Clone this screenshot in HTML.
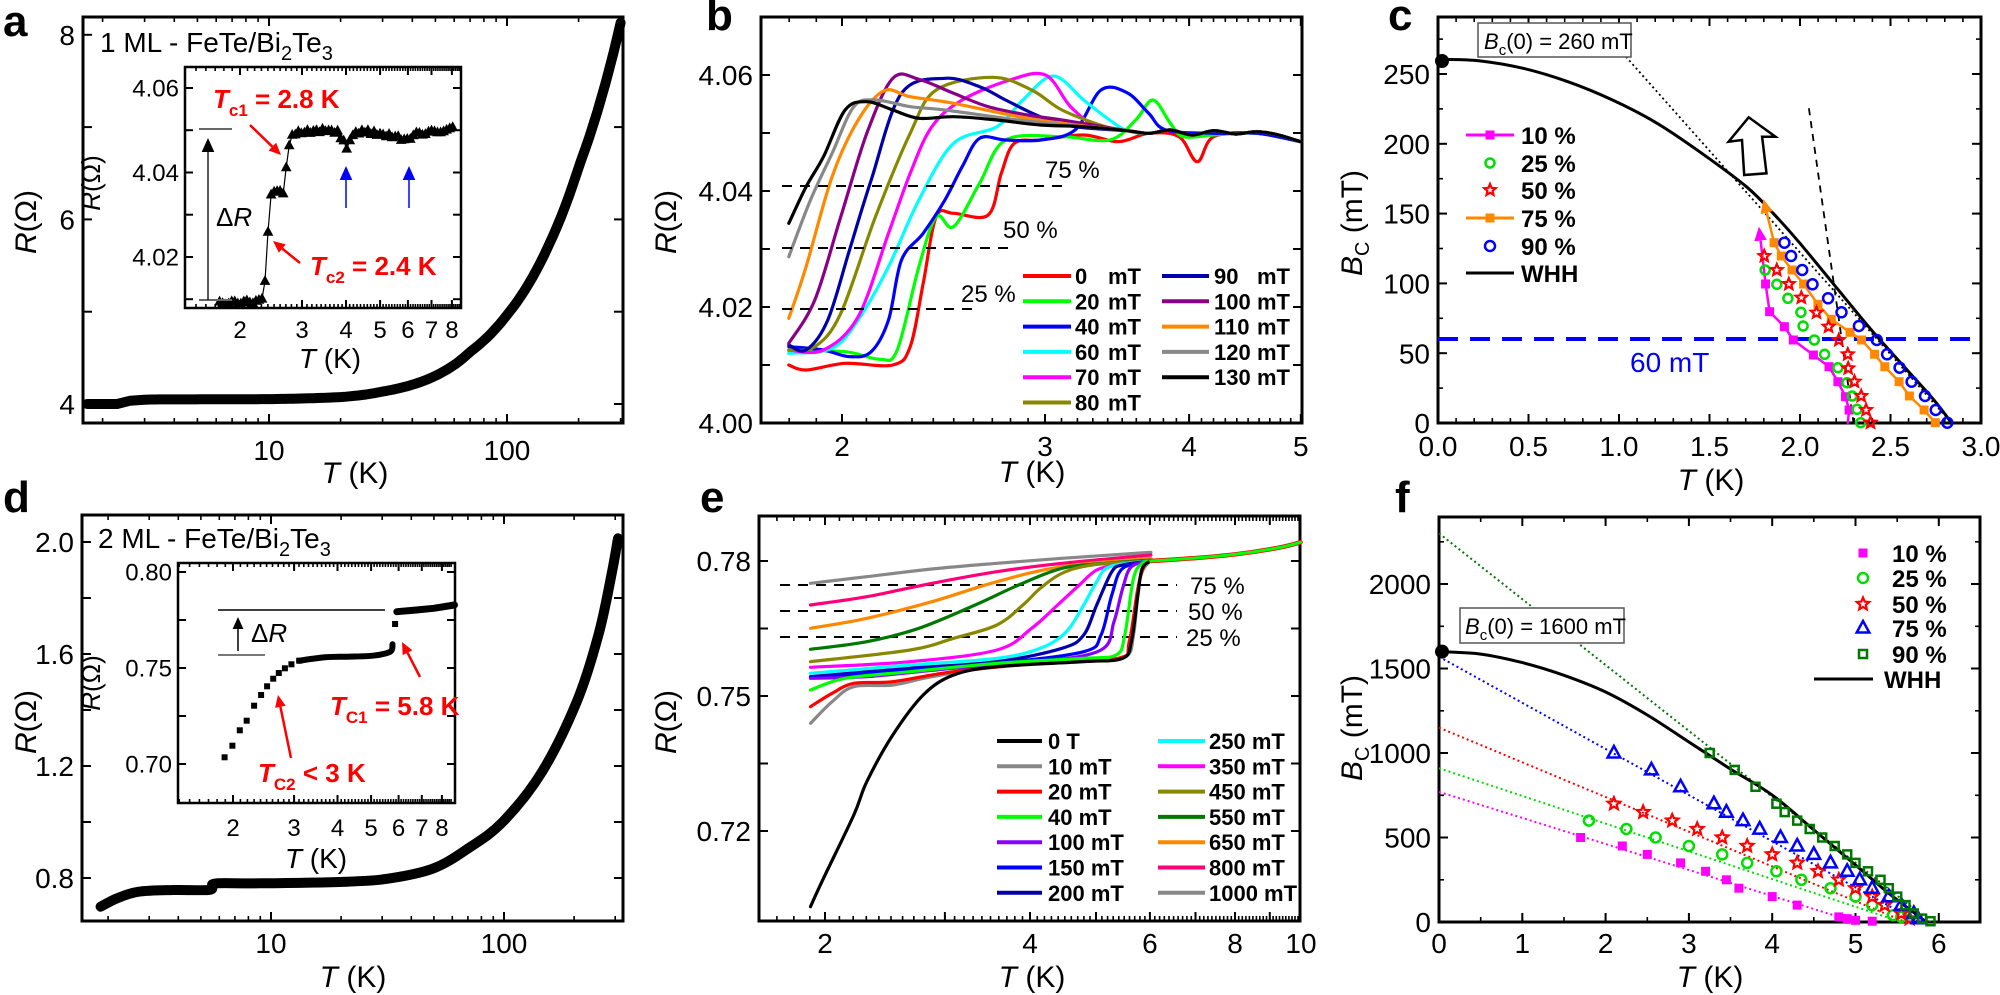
<!DOCTYPE html>
<html><head><meta charset="utf-8"><style>body{margin:0;background:#fff}svg{display:block}text{font-family:"Liberation Sans",Arial,sans-serif;fill:#000}</style></head>
<body><svg id="s" width="2000" height="995" xmlns="http://www.w3.org/2000/svg"></svg>
<script>
let o='';
const F=n=>(+n).toFixed(1), lg=Math.log10;
function L(x1,y1,x2,y2,c='#000',w=2,da=''){o+=`<line x1="${F(x1)}" y1="${F(y1)}" x2="${F(x2)}" y2="${F(y2)}" stroke="${c}" stroke-width="${w}"${da?` stroke-dasharray="${da}"`:''}/>`;}
function T(x,y,s,fs=28,anc='start',ex=''){o+=`<text x="${F(x)}" y="${F(y)}" font-size="${fs}" text-anchor="${anc}" ${ex}>${s}</text>`;}
function RT(x,y,s,fs=30){o+=`<text transform="translate(${x},${y}) rotate(-90)" font-size="${fs}" text-anchor="middle">${s}</text>`;}
function cr(p){let d=`M${F(p[0][0])},${F(p[0][1])}`;for(let i=0;i<p.length-1;i++){const p0=p[i-1]||p[i],p1=p[i],p2=p[i+1],p3=p[i+2]||p2;d+=`C${F(p1[0]+(p2[0]-p0[0])/6)},${F(p1[1]+(p2[1]-p0[1])/6)} ${F(p2[0]-(p3[0]-p1[0])/6)},${F(p2[1]-(p3[1]-p1[1])/6)} ${F(p2[0])},${F(p2[1])}`;}return d;}
function P(p,c,w,ex=''){o+=`<path d="${cr(p)}" fill="none" stroke="${c}" stroke-width="${w}" stroke-linejoin="round" stroke-linecap="round" ${ex}/>`;}
function PL(p,c,w,ex=''){o+=`<polyline points="${p.map(q=>F(q[0])+','+F(q[1])).join(' ')}" fill="none" stroke="${c}" stroke-width="${w}" stroke-linejoin="round" stroke-linecap="round" ${ex}/>`;}
function sq(x,y,s,c){o+=`<rect x="${F(x-s/2)}" y="${F(y-s/2)}" width="${s}" height="${s}" fill="${c}"/>`;}
function osq(x,y,s,c){o+=`<rect x="${F(x-s/2)}" y="${F(y-s/2)}" width="${s}" height="${s}" fill="none" stroke="${c}" stroke-width="2.5"/>`;}
function oc(x,y,r,c){o+=`<circle cx="${F(x)}" cy="${F(y)}" r="${r}" fill="none" stroke="${c}" stroke-width="2.5"/>`;}
function tri(x,y,s,c,fill){o+=`<path d="M${F(x)},${F(y-s)}L${F(x+s*0.9)},${F(y+s*0.65)}L${F(x-s*0.9)},${F(y+s*0.65)}Z" fill="${fill?c:'none'}" stroke="${c}" stroke-width="${fill?1:2.5}"/>`;}
function star(x,y,r,c){let d='';for(let i=0;i<10;i++){const a=-Math.PI/2+i*Math.PI/5,rr=i%2?r*0.45:r;d+=(i?'L':'M')+F(x+rr*Math.cos(a))+','+F(y+rr*Math.sin(a));}o+=`<path d="${d}Z" fill="none" stroke="${c}" stroke-width="2.2"/>`;}
function arrow(x1,y1,x2,y2,c,w=2.5,h=12){const a=Math.atan2(y2-y1,x2-x1);const bx=x2-h*Math.cos(a),by=y2-h*Math.sin(a);L(x1,y1,bx,by,c,w);o+=`<path d="M${F(x2)},${F(y2)}L${F(bx+h*0.45*Math.sin(a))},${F(by-h*0.45*Math.cos(a))}L${F(bx-h*0.45*Math.sin(a))},${F(by+h*0.45*Math.cos(a))}Z" fill="${c}"/>`;}
function rng(a,b,s){const r=[];for(let v=a;v<=b+1e-9;v+=s)r.push(+v.toFixed(4));return r;}
function axes(a){const{l,r,t,b}=a;
 o+=`<rect x="${l}" y="${t}" width="${r-l}" height="${b-t}" fill="none" stroke="#000" stroke-width="${a.bw||3}"/>`;
 const ml=a.ml||9,nl=a.nl||5;
 (a.xmin||[]).forEach(v=>{const x=a.X(v);if(x<l+1||x>r-1)return;L(x,b,x,b-nl,'#000',1.6);L(x,t,x,t+nl,'#000',1.6);});
 (a.xmaj||[]).forEach(v=>{const x=a.X(v);if(x<l+1||x>r-1)return;L(x,b,x,b-ml,'#000',2);L(x,t,x,t+ml,'#000',2);});
 (a.ymin||[]).forEach(v=>{const y=a.Y(v);if(y<t+1||y>b-1)return;L(l,y,l+nl,y,'#000',1.6);L(r,y,r-nl,y,'#000',1.6);});
 (a.ymaj||[]).forEach(v=>{const y=a.Y(v);if(y<t+1||y>b-1)return;L(l,y,l+ml,y,'#000',2);L(r,y,r-ml,y,'#000',2);});
 const fs=a.fs||28;
 (a.xl||[]).forEach(([v,s])=>T(a.X(v),a.xlb,s,fs,'middle'));
 (a.yl||[]).forEach(([v,s])=>T(l-(a.yg||8),a.Y(v)+fs*0.36,s,fs,'end'));
}
const Rw='<tspan font-style="italic">R</tspan>(Ω)', Tk='<tspan font-style="italic">T</tspan> (K)';
const Bc='<tspan font-style="italic">B</tspan><tspan font-size="20" dy="7">C</tspan><tspan dy="-7"> (mT)</tspan>';
function logmin(a,b){const r=[];for(let d=0;d<4;d++){const p=Math.pow(10,d);for(let k=1;k<10;k++){const v=k*p;if(v>=a&&v<=b)r.push(v);}}return r;}
function interp(k,t){if(t<=k[0][0])return k[0][1];for(let i=0;i<k.length-1;i++)if(t<=k[i+1][0]){const f=(t-k[i][0])/(k[i+1][0]-k[i][0]);return k[i][1]+f*(k[i+1][1]-k[i][1]);}return k[k.length-1][1];}

// ---------- panel a ----------
T(3,36,'a',44,'start','font-weight="bold"');
const Xa=v=>269+238*lg(v/10),Ya=v=>404-92.3*(v-4);
axes({l:83,r:623,t:17,b:423,X:Xa,Y:Ya,xmin:logmin(1.7,310),xmaj:[10,100],ymaj:[4,5,6,7,8],xl:[[10,'10'],[100,'100']],xlb:460,yl:[[4,'4'],[6,'6'],[8,'8']]});
{const lk=[[lg(3),lg(0.004)],[lg(10),lg(0.008)],[lg(20),lg(0.03)],[lg(30),lg(0.09)],[lg(50),lg(0.26)],[lg(70),lg(0.52)],[lg(100),lg(0.92)],[lg(150),lg(1.68)],[lg(200),lg(2.52)],[lg(300),lg(4.08)]];
const pts=[[Xa(1.72),Ya(4.0)],[Xa(2.3),Ya(4.0)],[Xa(2.6),Ya(4.035)],[Xa(3),Ya(4.045)]];
for(let t=3.2;t<=300;t*=1.04){pts.push([Xa(t),Ya(4.045+Math.pow(10,interp(lk,lg(t))))]);}
pts.push([Xa(300),Ya(8.13)]);
PL(pts,'#000',10);}
T(100,52,'1 ML - FeTe/Bi<tspan font-size="20" dy="8">2</tspan><tspan dy="-8">Te</tspan><tspan font-size="20" dy="8">3</tspan>',28);
RT(36,222,Rw,30); T(355,483,Tk,30,'middle');
// inset a
const Xi=v=>240+352*lg(v/2),Yi=v=>257-4225*(v-4.02);
o+=`<rect x="185" y="67" width="276" height="241" fill="#fff"/>`;
axes({l:185,r:461,t:67,b:308,X:Xi,Y:Yi,bw:2.5,ml:8,nl:4,xmin:rng(1.4,8.5,0.1),xmaj:[2,3,4,5,6,7,8],ymaj:[4.01,4.02,4.03,4.04,4.05,4.06],xl:[[2,'2'],[3,'3'],[4,'4'],[5,'5'],[6,'6'],[7,'7'],[8,'8']],xlb:338,yl:[[4.02,'4.02'],[4.04,'4.04'],[4.06,'4.06']],fs:24,yg:6});
const ik=[[1.7,4.009],[2.3,4.0095],[2.36,4.015],[2.42,4.03],[2.46,4.036],[2.65,4.035],[2.72,4.043],[2.8,4.049],[3.0,4.0495],[3.5,4.05],[3.8,4.0495],[3.95,4.047],[4.05,4.0455],[4.15,4.049],[4.5,4.0498],[5,4.049],[5.5,4.0485],[6.0,4.0475],[6.2,4.049],[7,4.0495],[8.2,4.0505]];
const ip=[];for(let t=1.75;t<=8.2;t*=1.02)ip.push([Xi(t),Yi(interp(ik,t)+(Math.sin(t*37)*0.0004))]);
PL(ip,'#000',1.2);ip.forEach(p=>tri(p[0],p[1],5,'#000',true));
L(199,129,232,129,'#666',2);L(199,300,232,300,'#666',2);arrow(208,300,208,138,'#000',1.3,14);
T(216,226,'Δ<tspan font-style="italic">R</tspan>',26);
arrow(250,125,281,155,'#f00',2.5,12);arrow(300,263,273,241,'#f00',2.5,12);
T(213,108,'<tspan font-style="italic">T</tspan><tspan font-size="17" dy="8">c1</tspan><tspan dy="-8"> = 2.8 K</tspan>',26,'start','font-weight="bold" style="fill:#f00"');
T(310,275,'<tspan font-style="italic">T</tspan><tspan font-size="17" dy="8">c2</tspan><tspan dy="-8"> = 2.4 K</tspan>',26,'start','font-weight="bold" style="fill:#f00"');
arrow(346,208,346,166,'#00f',1.5,14);arrow(409,208,409,166,'#00f',1.5,14);
RT(100,183,Rw,26);T(330,368,Tk,28,'middle');

// ---------- panel b ----------
T(706,30,'b',44,'start','font-weight="bold"');
const Xb=v=>842+1153*lg(v/2),Yb=v=>423-5800*(v-4);
axes({l:761,r:1302,t:17,b:423,X:Xb,Y:Yb,xmin:rng(1.7,5,0.1),xmaj:[2,3,4,5],ymaj:[4,4.01,4.02,4.03,4.04,4.05,4.06],xl:[[2,'2'],[3,'3'],[4,'4'],[5,'5']],xlb:456,yl:[[4,'4.00'],[4.02,'4.02'],[4.04,'4.04'],[4.06,'4.06']]});
RT(676,222,Rw,30);T(1032,482,Tk,30,'middle');
const bz=p=>[650+p[0]/2.306,p[1]/3];
const tail=[[1100,392],[1150,400],[1200,390],[1250,405],[1300,392],[1350,402],[1400,395],[1450,405],[1500,425]];
const bc=[
['#f00',[[320,1095],[360,1110],[450,1090],[560,1095],[600,1040],[630,850],[660,650],[700,640],[780,645],[810,520],[840,430],[900,420],[1000,405],[1080,425],[1150,400],[1220,410],[1262,485],[1300,410],[1400,400],[1500,425]]],
['#0f0',[[320,1052],[450,1055],[530,1078],[570,1050],[620,800],[660,650],[700,680],[760,550],[820,420],[950,410],[1060,420],[1120,360],[1160,300],[1200,370],[1230,410],[1300,405],[1400,400],[1500,425]]],
['#00f',[[320,1040],[400,1050],[460,1070],[510,1055],[550,960],[580,780],[630,700],[680,600],[720,500],[760,415],[820,420],[900,420],[980,390],[1040,270],[1100,278],[1150,340],[1190,390],[1300,400],[1400,400],[1500,425]]],
['#0ff',[[320,1060],[420,1045],[480,960],[550,800],[620,600],[700,430],[800,380],[860,300],[930,228],[1000,300],[1060,360],...tail]],
['#f0f',[[320,1050],[400,1050],[480,950],[550,700],[600,520],[650,380],[720,300],[830,240],[912,225],[970,320],[1030,380],...tail]],
['#880',[[320,1050],[380,1040],[440,940],[520,650],[600,400],[660,270],[790,232],[880,270],[950,330],[1050,380],...tail]],
['#00a',[[320,1035],[360,1050],[410,960],[460,750],[510,540],[580,280],[680,235],[760,260],[820,300],[900,350],[980,380],...tail]],
['#808',[[320,1030],[380,900],[440,650],[500,400],[560,235],[620,238],[700,280],[780,320],[870,345],[950,360],...tail]],
['#f80',[[320,955],[360,800],[420,530],[480,360],[540,272],[600,290],[700,310],[850,350],[950,370],...tail]],
['#888',[[320,770],[370,600],[420,460],[470,320],[520,300],[600,320],[680,330],[850,360],[1000,380],...tail]],
['#000',[[320,670],[360,560],[400,470],[450,330],[500,305],[560,330],[620,355],[700,350],[800,360],[900,375],[1000,380],...tail]]];
bc.forEach(([c,p])=>P(p.map(bz),c,3.2));
L(782,186,1066,186,'#000',2,'10 8');T(1045,178,'75 %',24);
L(782,248,1016,248,'#000',2,'10 8');T(1003,238,'50 %',24);
L(782,309,980,309,'#000',2,'10 8');T(961,302,'25 %',24);
const bl=[['#f00','0'],['#0f0','20'],['#00f','40'],['#0ff','60'],['#f0f','70'],['#880','80']],bl2=[['#00a','90'],['#808','100'],['#f80','110'],['#888','120'],['#000','130']];
bl.forEach(([c,s],i)=>{const y=276+i*25.3;L(1023,y,1071,y,c,4);T(1075,y+8,s,22,'start','font-weight="bold"');T(1108,y+8,'mT',22,'start','font-weight="bold"');});
bl2.forEach(([c,s],i)=>{const y=276+i*25.3;L(1162,y,1209,y,c,4);T(1214,y+8,s,22,'start','font-weight="bold"');T(1257,y+8,'mT',22,'start','font-weight="bold"');});

// ---------- panel c ----------
T(1388,30,'c',44,'start','font-weight="bold"');
const Xc=v=>1438+181*v,Yc=v=>423-1.396*v;
axes({l:1438,r:1981,t:17,b:423,X:Xc,Y:Yc,xmin:rng(0,3,0.1),xmaj:rng(0,3,0.5),ymin:rng(0,275,25),ymaj:rng(0,250,50),xl:rng(0,3,0.5).map(v=>[v,v.toFixed(1)]),xlb:456,yl:rng(0,250,50).map(v=>[v,String(v)])});
RT(1362,223,Bc,30);T(1711,490,Tk,30,'middle');
const cz=p=>[1300+p[0]/2.24,p[1]/3];
L(1438,339,1981,339,'#00f',4,'20 12');
T(1630,372,'60 mT',28,'start','style="fill:#00f"');
P([[318,178],[400,182],[500,205],[600,245],[700,300],[800,370],[900,460],[1000,560],[1060,640],[1120,730],[1200,860],[1280,990],[1360,1110],[1420,1200],[1460,1270]].map(cz),'#000',3);
{const a=cz([730,170]),b=cz([1460,1270]);L(a[0],a[1],b[0],b[1],'#000',1.8,'2 3');const c=cz([1140,325]),d=cz([1240,1270]);L(c[0],c[1],d[0],d[1],'#000',1.8,'7 6');}
o+=`<path d="M${[[995,525],[990,420],[960,425],[1005,352],[1065,410],[1035,410],[1045,520]].map(cz).map(p=>F(p[0])+','+F(p[1])).join('L')}Z" fill="#fff" stroke="#000" stroke-width="2.5"/>`;
const cm=[[1227,1268],[1230,1230],[1222,1190],[1205,1145],[1185,1100],[1150,1065],[1105,1020],[1085,980],[1052,935],[1043,852]].map(cz);
PL(cm,'#f0f',2.5);{const a=cz([1043,852]),b=cz([1028,680]);arrow(a[0],a[1],b[0],b[1],'#f0f',2.5,14);}cm.slice(1).forEach(p=>sq(p[0],p[1],9,'#f0f'));
const co=[[1423,1268],[1398,1230],[1365,1188],[1342,1145],[1310,1100],[1287,1063],[1258,1020],[1232,997],[1190,958],[1160,913],[1128,852],[1102,810],[1078,768],[1062,728]].map(cz);
PL(co,'#f80',2.5);{const a=cz([1062,728]),b=cz([1038,597]);arrow(a[0],a[1],b[0],b[1],'#f80',2.5,14);}co.forEach(p=>sq(p[0],p[1],9,'#f80'));
[[1256,1268],[1248,1228],[1237,1188],[1225,1148],[1205,1103],[1175,1063],[1152,1020],[1127,978],[1122,937],[1093,895],[1068,853],[1042,810]].map(cz).forEach(p=>oc(p[0],p[1],4.5,'#0d0'));
[[1278,1268],[1268,1230],[1257,1188],[1242,1145],[1228,1105],[1227,1063],[1207,1020],[1184,980],[1157,938],[1123,893],[1095,852],[1068,810],[1040,768]].map(cz).forEach(p=>star(p[0],p[1],6,'#f00'));
[[1450,1268],[1424,1230],[1400,1188],[1370,1145],[1343,1103],[1315,1063],[1292,1020],[1252,978],[1213,937],[1183,895],[1148,853],[1125,810],[1100,768],[1085,728]].map(cz).forEach(p=>oc(p[0],p[1],5,'#00f'));
o+=`<circle cx="1442" cy="61" r="7" fill="#000"/>`;
o+=`<rect x="1478" y="23" width="153" height="34" fill="#fff" stroke="#555" stroke-width="1.5"/>`;
T(1484,49,'<tspan font-style="italic">B</tspan><tspan font-size="15" dy="6">c</tspan><tspan dy="-6">(0) = 260 mT</tspan>',22);
const cly=[135,163,190,218,246,273];
L(1466,135,1514,135,'#f0f',3);sq(1490,135,9,'#f0f');oc(1490,163,4.5,'#0d0');star(1490,190,6,'#f00');
L(1466,218,1514,218,'#f80',3);sq(1490,218,9,'#f80');oc(1490,246,5,'#00f');L(1466,273,1514,273,'#000',3);
['10 %','25 %','50 %','75 %','90 %','WHH'].forEach((s,i)=>T(1521,cly[i]+9,s,24,'start','font-weight="bold"'));

// ---------- panel d ----------
T(3,512,'d',44,'start','font-weight="bold"');
const Xd=v=>271+233*lg(v/10),Yd=v=>878-280*(v-0.8);
axes({l:82,r:623,t:515,b:921,X:Xd,Y:Yd,xmin:logmin(1.6,320),xmaj:[10,100],ymaj:rng(0.8,2.0,0.2),xl:[[10,'10'],[100,'100']],xlb:953,yl:[[0.8,'0.8'],[1.2,'1.2'],[1.6,'1.6'],[2.0,'2.0']]});
RT(36,722,Rw,30);T(353,987,Tk,30,'middle');
const dz=p=>[p[0]/2.306,495+p[1]/3];
P([[232,1235],[270,1210],[320,1190],[400,1185],[480,1185],[490,1175],[500,1165],[600,1165],[800,1160],[900,1150],[1000,1120],[1080,1060],[1160,980],[1250,830],[1330,620],[1380,420],[1410,240],[1425,130]].map(dz),'#000',10);
T(98,548,'2 ML - FeTe/Bi<tspan font-size="20" dy="8">2</tspan><tspan dy="-8">Te</tspan><tspan font-size="20" dy="8">3</tspan>',28);
const Xdi=v=>233+347*lg(v/2),Ydi=v=>764-1920*(v-0.70);
o+=`<rect x="178" y="563" width="277" height="240" fill="#fff"/>`;
axes({l:178,r:455,t:563,b:803,X:Xdi,Y:Ydi,bw:2.5,ml:8,nl:4,xmin:rng(1.4,8.5,0.1),xmaj:[2,3,4,5,6,7,8],ymaj:[0.70,0.725,0.75,0.775,0.80],xl:[[2,'2'],[3,'3'],[4,'4'],[5,'5'],[6,'6'],[7,'7'],[8,'8']],xlb:836,yl:[[0.70,'0.70'],[0.75,'0.75'],[0.80,'0.80']],fs:24,yg:6});
[[518,787],[536,752],[553,706],[569,677],[586,632],[602,600],[616,574],[630,551],[643,534],[657,520],[672,508],[690,497],[911,387]].map(dz).forEach(p=>sq(p[0],p[1],6,'#000'));
P([[690,497],[750,487],[800,485],[860,482],[900,470],[905,448]].map(dz),'#000',6);
PL([[915,350],[960,345],[1000,340],[1048,330]].map(dz),'#000',7);
L(218,610,385,610,'#000',1.5);L(218,655,265,655,'#777',2);arrow(238,651,238,617,'#000',1.5,12);
T(251,642,'Δ<tspan font-style="italic">R</tspan>',26);
arrow(420,677,402,642,'#f00',2.5,12);arrow(291,758,278,695,'#f00',2.5,12);
T(330,715,'<tspan font-style="italic">T</tspan><tspan font-size="17" dy="8">C1</tspan><tspan dy="-8"> = 5.8 K</tspan>',26,'start','font-weight="bold" style="fill:#f00"');
T(258,782,'<tspan font-style="italic">T</tspan><tspan font-size="17" dy="8">C2</tspan><tspan dy="-8"> &lt; 3 K</tspan>',26,'start','font-weight="bold" style="fill:#f00"');
RT(100,683,Rw,26);T(316,868,Tk,28,'middle');

// ---------- panel e ----------
T(700,512,'e',44,'start','font-weight="bold"');
const Xe=v=>825+681*lg(v/2),Ye=v=>831-4500*(v-0.72);
axes({l:759,r:1300,t:516,b:921,X:Xe,Y:Ye,xmin:rng(1.6,10,0.1),xmaj:[2,3,4,5,6,7,8,9,10],ymaj:[0.72,0.735,0.75,0.765,0.78],ymin:[],xl:[[2,'2'],[4,'4'],[6,'6'],[8,'8'],[10,'10']],xlb:953,yl:[[0.72,'0.72'],[0.75,'0.75'],[0.78,'0.78']]});
RT(676,722,Rw,30);T(1032,987,Tk,30,'middle');
const ez=p=>[650+p[0]/2.306,495+p[1]/3];
L(780,585,1177,585,'#000',2,'10 8');L(780,611,1177,611,'#000',2,'10 8');L(780,637,1177,637,'#000',2,'10 8');
T(1190,594,'75 %',24);T(1188,620,'50 %',24);T(1186,646,'25 %',24);
const et=[[1250,190],[1350,178],[1450,158],[1500,142]];
const ec=[
['#888',[[370,265],[500,245],[650,222],[800,205],[950,190],[1155,172]]],
['#f07',[[370,330],[500,305],[650,265],[800,230],[950,205],[1155,180]]],
['#f80',[[370,400],[500,370],[650,320],[800,260],[950,215],[1155,190]]],
['#070',[[370,463],[500,440],[620,400],[750,330],[850,270],[950,220],[1050,205],[1155,195]]],
['#880',[[370,500],[600,465],[700,430],[800,390],[860,330],[900,280],[950,235],[1020,210],[1155,198]]],
['#f0f',[[370,517],[600,500],[800,465],[880,400],[940,330],[990,270],[1030,225],[1080,210],[1155,198]]],
['#0ff',[[370,535],[600,510],[800,490],[900,460],[960,410],[1000,330],[1030,260],[1060,215],[1155,198]]],
['#00a',[[370,545],[600,520],[800,500],[950,460],[1000,420],[1030,330],[1065,230],[1090,210],[1155,198]]],
['#00f',[[370,548],[600,525],[800,505],[1000,470],[1040,420],[1065,300],[1090,220],[1155,198]]],
['#80f',[[370,550],[500,545],[700,520],[900,500],[1040,465],[1070,380],[1090,280],[1110,215],[1155,198]]],
['#888',[[370,685],[420,620],[470,575],[560,570],[650,545],[800,515],[1000,495],[1095,485],[1115,420],[1130,250],[1155,195]]],
['#f00',[[370,635],[420,595],[470,565],[560,560],[700,530],[900,505],[1080,490],[1105,440],[1125,280],[1140,210],[1155,198]]],
['#0f0',[[370,585],[450,550],[600,530],[800,505],[1000,490],[1075,480],[1095,420],[1115,250],[1135,205],[1155,198]]],
['#000',[[370,1235],[400,1150],[470,960],[500,860],[560,720],[630,600],[700,540],[800,515],[1000,500],[1090,490],[1110,440],[1125,300],[1135,220],[1155,198]]]];
ec.forEach(([c,p])=>P(p.map(ez),c,3.2));
P([[1155,198],...et].map(ez),'#f00',4.5);P([[1155,198],...et].map(ez),'#0f0',3);
const el1=[['#000','0 T'],['#888','10 mT'],['#f00','20 mT'],['#0f0','40 mT'],['#80f','100 mT'],['#00f','150 mT'],['#00a','200 mT']];
const el2=[['#0ff','250 mT'],['#f0f','350 mT'],['#880','450 mT'],['#070','550 mT'],['#f80','650 mT'],['#f07','800 mT'],['#888','1000 mT']];
el1.forEach(([c,s],i)=>{const y=741+i*25.3;L(997,y,1042,y,c,4);T(1048,y+8,s,22,'start','font-weight="bold"');});
el2.forEach(([c,s],i)=>{const y=741+i*25.3;L(1158,y,1205,y,c,4);T(1209,y+8,s,22,'start','font-weight="bold"');});

// ---------- panel f ----------
T(1395,512,'f',44,'start','font-weight="bold"');
const Xf=v=>1439+83.3*v,Yf=v=>922-0.169*v;
axes({l:1439,r:1980,t:517,b:922,X:Xf,Y:Yf,xmin:rng(0,6.5,0.5),xmaj:rng(0,6,1),ymin:rng(0,2250,250),ymaj:rng(0,2000,500),xl:rng(0,6,1).map(v=>[v,String(v)]),xlb:953,yl:rng(0,2000,500).map(v=>[v,String(v)])});
RT(1362,728,Bc,30);T(1710,987,Tk,30,'middle');
const dl=(b0,t0,c)=>L(Xf(0),Yf(b0),Xf(t0),Yf(0),c,2,'2 3');
dl(2300,5.9,'#070');dl(1570,5.75,'#00f');dl(1150,5.6,'#f00');dl(910,5.55,'#0d0');dl(770,5.0,'#f0f');
P([[0,1600],[0.5,1585],[1,1535],[1.5,1460],[2,1361],[2.5,1225],[3,1065],[3.5,905],[4,751],[4.5,545],[5,337],[5.4,170],[5.85,0]].map(p=>[Xf(p[0]),Yf(p[1])]),'#000',3);
[[1.7,500],[2.2,450],[2.5,400],[2.9,350],[3.2,300],[3.45,250],[3.6,200],[4.0,150],[4.3,100],[4.8,30],[4.9,20],[5.0,10],[5.2,5]].forEach(p=>sq(Xf(p[0]),Yf(p[1]),9,'#f0f'));
[[1.8,600],[2.25,550],[2.6,500],[3,450],[3.4,400],[3.7,350],[4.05,300],[4.35,250],[4.7,200],[5.0,150],[5.2,100],[5.45,40],[5.55,30]].forEach(p=>oc(Xf(p[0]),Yf(p[1]),5,'#0d0'));
[[2.1,700],[2.45,650],[2.8,600],[3.1,550],[3.4,500],[3.7,450],[4.0,400],[4.3,350],[4.55,300],[4.8,250],[5.0,200],[5.2,150],[5.35,100],[5.55,50],[5.65,20]].forEach(p=>star(Xf(p[0]),Yf(p[1]),6.5,'#f00'));
[[2.1,1000],[2.55,900],[2.9,800],[3.3,700],[3.45,650],[3.65,600],[3.85,550],[4.1,500],[4.3,450],[4.5,400],[4.7,350],[4.9,300],[5.05,250],[5.2,200],[5.4,150],[5.55,100],[5.7,50],[5.75,20]].forEach(p=>tri(Xf(p[0]),Yf(p[1]),7,'#00f',false));
[[3.25,1000],[3.55,900],[3.8,800],[4.05,700],[4.15,650],[4.3,600],[4.45,550],[4.6,500],[4.75,450],[4.9,400],[5.0,350],[5.15,300],[5.3,250],[5.4,200],[5.5,150],[5.6,100],[5.7,50],[5.8,20],[5.9,5]].forEach(p=>osq(Xf(p[0]),Yf(p[1]),8,'#070'));
o+=`<circle cx="${Xf(0)+3}" cy="${Yf(1600)}" r="7" fill="#000"/>`;
o+=`<rect x="1460" y="608" width="164" height="35" fill="#fff" stroke="#555" stroke-width="1.5"/>`;
T(1465,634,'<tspan font-style="italic">B</tspan><tspan font-size="15" dy="6">c</tspan><tspan dy="-6">(0) = 1600 mT</tspan>',22);
const fy=[553,578,604,628,654,679];
sq(1863,553,9,'#f0f');oc(1863,578,5,'#0d0');star(1863,604,6.5,'#f00');tri(1863,628,7,'#00f',false);osq(1863,654,8,'#070');L(1814,679,1873,679,'#000',3);
['10 %','25 %','50 %','75 %','90 %'].forEach((s,i)=>T(1892,fy[i]+9,s,24,'start','font-weight="bold"'));
T(1884,688,'WHH',24,'start','font-weight="bold"');

document.getElementById('s').innerHTML=o;
</script></body></html>
